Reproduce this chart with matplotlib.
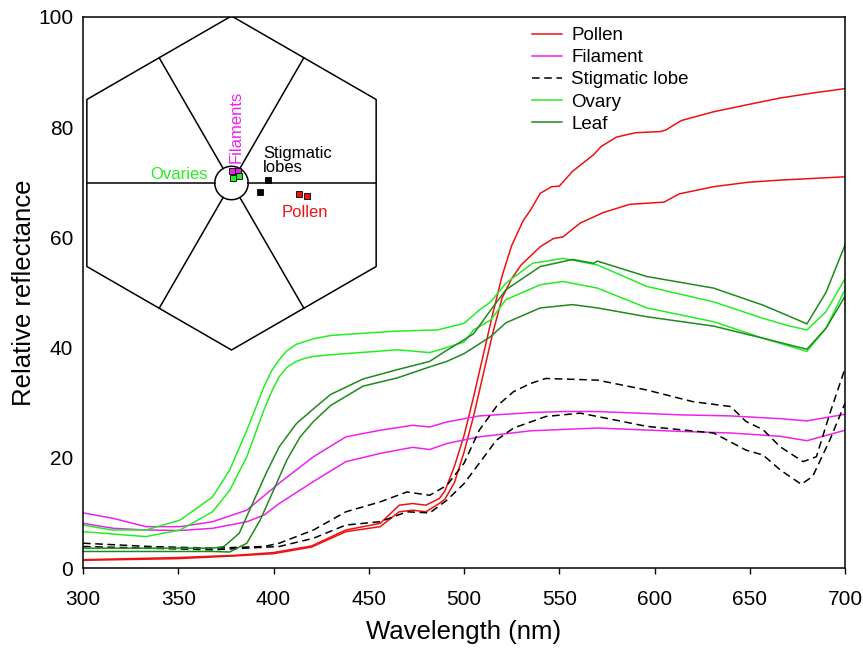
import numpy as np
import matplotlib
matplotlib.use('Agg')
import matplotlib.pyplot as plt

plt.rcParams['font.family'] = ['Liberation Sans', 'DejaVu Sans']

# reflectance spectra, two replicates per tissue (wavelength nm, relative reflectance)
pollen_a_wl = [300, 350, 380, 400, 420, 438, 456, 466, 473, 480, 487, 490, 495, 500, 505, 510, 515, 520, 525, 531,
               535, 540, 546, 550, 557, 568, 572, 580, 590, 603, 606, 614, 631, 649, 666, 683, 700]
pollen_a = [1.5, 1.9, 2.3, 2.8, 4.0, 6.9, 8.1, 11.4, 11.7, 11.4, 12.6, 14.0, 18.5, 24, 31, 38.5, 46, 53, 58.5, 63,
            65, 68, 69.2, 69.3, 72, 75, 76.5, 78.2, 79, 79.2, 79.5, 81.2, 82.8, 84.1, 85.3, 86.2, 87]
pollen_b_wl = [300, 350, 380, 400, 420, 438, 456, 466, 473, 480, 487, 490, 495, 500, 505, 510, 515, 520, 525, 530,
               540, 547, 552, 561, 573, 587, 600, 605, 613, 631, 649, 666, 683, 700]
pollen_b = [1.4, 1.7, 2.2, 2.6, 3.8, 6.6, 7.5, 10.2, 10.5, 10.2, 11.7, 12.5, 15.5, 21, 27.5, 35, 42.5, 49, 52.5, 55,
            58.3, 59.8, 60.1, 62.6, 64.5, 66, 66.3, 66.4, 67.9, 69.2, 70, 70.4, 70.7, 71]

fil_a_wl = [300, 316, 333, 351, 368, 386, 403, 421, 438, 456, 473, 482, 491, 508, 535, 552, 570, 613, 640, 666, 680, 700]
fil_a = [10, 9.0, 7.5, 7.5, 8.4, 10.5, 15.4, 20.2, 23.8, 25.0, 25.9, 25.6, 26.5, 27.6, 28.2, 28.4, 28.4, 27.8, 27.6,
         27.1, 26.7, 27.9]
fil_b_wl = [300, 316, 333, 351, 368, 386, 395, 403, 421, 438, 456, 473, 482, 491, 508, 535, 570, 613, 640, 666, 680, 700]
fil_b = [8.1, 7.2, 6.9, 6.8, 7.2, 8.4, 9.6, 11.7, 15.7, 19.3, 20.8, 21.9, 21.5, 22.6, 23.8, 24.9, 25.4, 24.8, 24.5,
         23.9, 23.1, 25.0]

stig_a_wl = [300, 335, 368, 395, 403, 421, 438, 456, 470, 482, 491, 500, 508, 517, 526, 535, 543, 570, 596, 620, 640,
             648, 657, 666, 678, 685, 692, 700]
stig_a = [4.5, 3.9, 3.6, 3.9, 4.5, 6.9, 10.2, 12.0, 13.8, 13.2, 15.0, 19.0, 25, 29.3, 32.0, 33.5, 34.4, 34.1, 32.3,
          30.2, 29.3, 26.6, 25.1, 22.0, 19.3, 20.2, 28.0, 36.2]
stig_b_wl = [300, 368, 403, 421, 438, 456, 470, 482, 491, 500, 508, 517, 526, 543, 561, 570, 596, 631, 648, 657, 666,
             677, 683, 692, 700]
stig_b = [3.9, 3.3, 3.9, 5.4, 7.8, 8.4, 10.2, 10.0, 12.3, 15.3, 19.0, 23.2, 25.4, 27.5, 28.1, 27.5, 25.7, 24.5, 21.4,
          20.5, 17.8, 15.2, 16.6, 23.2, 29.9]

ovary_a_wl = [300, 315, 333, 351, 368, 377, 386, 395, 399, 403, 407, 412, 421, 430, 447, 465, 486, 500, 508, 514, 522,
              536, 552, 570, 596, 631, 657, 670, 680, 690, 700]
ovary_a = [7.8, 6.9, 6.9, 8.7, 12.9, 17.8, 25.0, 32.9, 35.8, 37.8, 39.4, 40.6, 41.6, 42.2, 42.6, 43.0, 43.2, 44.4,
           46.8, 48.3, 51.7, 55.3, 56.2, 55.0, 51.1, 48.3, 45.3, 44.0, 43.2, 46.5, 52.5]
ovary_b_wl = [300, 333, 351, 368, 377, 386, 395, 399, 403, 407, 412, 416, 421, 430, 465, 482, 487, 500, 505, 514, 522,
              540, 552, 570, 596, 631, 657, 680, 690, 700]
ovary_b = [6.6, 5.7, 6.9, 10.2, 14.1, 20.2, 28.7, 32.0, 34.7, 36.4, 37.5, 38.0, 38.4, 38.7, 39.6, 39.1, 39.6, 41.0,
           43.2, 45.0, 48.7, 51.4, 52.0, 50.8, 47.2, 44.7, 41.7, 39.3, 43.5, 50.5]

leaf_a_wl = [300, 368, 374, 382, 389, 396, 403, 412, 421, 430, 447, 465, 482, 490, 500, 505, 514, 522, 540, 557, 568,
             570, 596, 631, 657, 670, 680, 690, 700]
leaf_a = [3.6, 3.6, 3.9, 6.3, 11.7, 17.1, 22.0, 26.2, 28.9, 31.5, 34.3, 36.0, 37.5, 39.3, 41.4, 42.5, 46.8, 50.5,
          54.7, 56.0, 55.3, 55.7, 52.9, 50.8, 47.7, 45.8, 44.3, 50, 58.6]
leaf_b_wl = [300, 368, 377, 386, 393, 400, 407, 414, 421, 430, 447, 465, 482, 491, 500, 505, 514, 522, 540, 557, 570,
             596, 631, 657, 680, 690, 700]
leaf_b = [3.0, 3.0, 2.9, 4.5, 8.7, 14.1, 19.6, 23.8, 26.6, 29.5, 33, 34.5, 36.5, 37.5, 38.9, 40, 42.0, 44.5, 47.2,
          47.8, 47.2, 45.6, 43.9, 41.7, 39.7, 43.5, 49.3]

# colour hexagon loci (hexagon units, centre at 0,0)
hex_pts = {
    'Filaments': ([0.005, 0.037], [0.074, 0.074], '#ee22ee'),
    'Ovaries': ([0.011, 0.045], [0.032, 0.044], '#22ee22'),
    'Stigmatic lobes': ([0.217, 0.169], [0.018, -0.052], 'black'),
    'Pollen': ([0.404, 0.450], [-0.068, -0.078], '#ee1111'),
}

red = '#ee1111'
magenta = '#ee22ee'
lgreen = '#22ee22'
dgreen = '#1e8a1e'

W, H = 863, 651
fig = plt.figure(figsize=(W / 100, H / 100), dpi=100)
ax = fig.add_axes([83 / W, (H - 568) / H, 762 / W, 551 / H])

lw = 1.1
ax.plot(pollen_a_wl, pollen_a, color=red, lw=lw, label='Pollen')
ax.plot(pollen_b_wl, pollen_b, color=red, lw=lw)
ax.plot(fil_a_wl, fil_a, color=magenta, lw=lw, label='Filament')
ax.plot(fil_b_wl, fil_b, color=magenta, lw=lw)
ax.plot(stig_a_wl, stig_a, color='black', lw=lw, dashes=(5, 3), label='Stigmatic lobe')
ax.plot(stig_b_wl, stig_b, color='black', lw=lw, dashes=(5, 3))
ax.plot(ovary_a_wl, ovary_a, color=lgreen, lw=lw, label='Ovary')
ax.plot(ovary_b_wl, ovary_b, color=lgreen, lw=lw)
ax.plot(leaf_a_wl, leaf_a, color=dgreen, lw=lw, label='Leaf')
ax.plot(leaf_b_wl, leaf_b, color=dgreen, lw=lw)

ax.set_xlim(300, 700)
ax.set_ylim(0, 100)
ax.set_xticks(np.arange(300, 701, 50))
ax.set_yticks(np.arange(0, 101, 20))
ax.tick_params(axis='x', direction='out', length=4, width=1, labelsize=15, pad=12)
ax.tick_params(axis='y', length=0, labelsize=15, pad=7)
for s in ax.spines.values():
    s.set_linewidth(1.1)
ax.set_xlabel('Wavelength (nm)', fontsize=18.5)
ax.set_ylabel('Relative reflectance', fontsize=18.5)
ax.xaxis.set_label_coords(0.5, -0.094)
ax.yaxis.set_label_coords(-0.062, 0.5)

ax.legend(loc='upper left', bbox_to_anchor=(532 / W, 1 - 27 / H), bbox_transform=fig.transFigure,
          frameon=False, fontsize=13.5, handlelength=1.6, handletextpad=0.5, labelspacing=0.27,
          borderpad=0, borderaxespad=0)

# colour hexagon inset
ins = fig.add_axes([83 / W, (H - 351) / H, 297 / W, 334 / H])
ins.set_xlim(-0.889, 0.889)
ins.set_ylim(-1.006, 0.994)
ins.axis('off')
ang = np.deg2rad(np.arange(90, 451, 60))
ins.plot(np.cos(ang), np.sin(ang), color='black', lw=1.1)
r0 = 0.1
t = np.linspace(0, 2 * np.pi, 100)
ins.plot(r0 * np.cos(t), r0 * np.sin(t), color='black', lw=1.1)
apo = np.cos(np.deg2rad(30))
for a in np.deg2rad(np.arange(0, 360, 60)):
    ins.plot([r0 * np.cos(a), apo * np.cos(a)], [r0 * np.sin(a), apo * np.sin(a)], color='black', lw=1.1)
for name, (hx, hy, c) in hex_pts.items():
    ins.plot(hx, hy, 's', color=c, ms=4.5, mec='black', mew=0.6, ls='none')

ins.text(0.027, 0.12, 'Filaments', color=magenta, fontsize=12, rotation=90, ha='center', va='bottom')
ins.text(-0.141, 0.048, 'Ovaries', color=lgreen, fontsize=12, ha='right', va='center')
ins.text(0.189, 0.135, 'Stigmatic\nlobes', color='black', fontsize=12, ha='left', va='center', linespacing=0.95)
ins.text(0.44, -0.174, 'Pollen', color=red, fontsize=12, ha='center', va='center')

fig.savefig('out.png', dpi=100)
